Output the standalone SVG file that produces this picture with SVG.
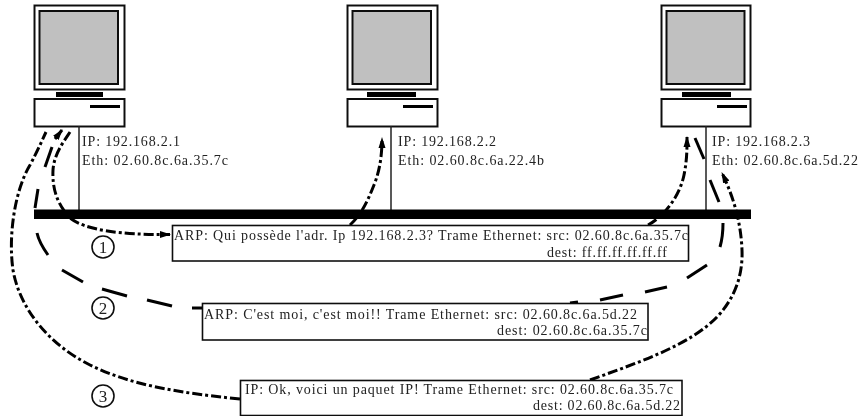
<svg xmlns="http://www.w3.org/2000/svg" width="858" height="416" viewBox="0 0 858 416">
<style>
.o{fill:#fff;stroke:#111;stroke-width:2}
.s{fill:#c0c0c0;stroke:#111;stroke-width:2}
.k{fill:#000}
.l{fill:none;stroke:#222;stroke-width:1.5}
.b{fill:#fff;stroke:#111;stroke-width:1.6}
text{font-family:"Liberation Serif","Times New Roman",serif;font-size:14px;fill:#222}
.c{text-anchor:middle;font-size:17px}
.dd{fill:none;stroke:#000;stroke-width:3;stroke-dasharray:10 3 3 3}
.da{fill:none;stroke:#000;stroke-width:3}
</style>
<defs>
<marker id="a" markerWidth="11" markerHeight="8" refX="10" refY="4" orient="auto" markerUnits="userSpaceOnUse"><path d="M0 0.500L11 4L0 7.500z" fill="#000"/></marker>
<filter id="f" x="-2%" y="-2%" width="104%" height="104%"><feGaussianBlur stdDeviation="0.35"/></filter>
</defs>
<g filter="url(#f)">
<g id="pc1">
<rect class="o" x="34.500" y="5.500" width="90" height="84"/><rect class="s" x="39.500" y="11" width="78.500" height="73"/>
<rect class="k" x="56" y="92" width="47" height="5"/><rect class="o" x="34.500" y="99" width="90" height="27.500"/><rect class="k" x="90" y="105" width="30" height="3"/>
<path class="l" d="M79 126V210"/>
<text x="82" y="146" textLength="98" lengthAdjust="spacing">IP: 192.168.2.1</text>
<text x="82" y="165" textLength="146" lengthAdjust="spacing">Eth: 02.60.8c.6a.35.7c</text>
</g>
<g id="pc2">
<rect class="o" x="347.500" y="5.500" width="90" height="84"/><rect class="s" x="352.500" y="11" width="78.500" height="73"/>
<rect class="k" x="367" y="92" width="49" height="5"/><rect class="o" x="347.500" y="99" width="90" height="27.500"/><rect class="k" x="403" y="105" width="30" height="3"/>
<path class="l" d="M391 126V210"/>
<text x="398" y="146" textLength="98" lengthAdjust="spacing">IP: 192.168.2.2</text>
<text x="398" y="165" textLength="146" lengthAdjust="spacing">Eth: 02.60.8c.6a.22.4b</text>
</g>
<g id="pc3">
<rect class="o" x="661.500" y="5.500" width="89" height="84"/><rect class="s" x="666.500" y="11" width="78" height="73"/>
<rect class="k" x="682" y="92" width="49" height="5"/><rect class="o" x="661.500" y="99" width="89" height="27.500"/><rect class="k" x="717" y="105" width="30" height="3"/>
<path class="l" d="M706 126V210"/>
<text x="712" y="146" textLength="98" lengthAdjust="spacing">IP: 192.168.2.3</text>
<text x="712" y="165" textLength="146" lengthAdjust="spacing">Eth: 02.60.8c.6a.5d.22</text>
</g>
<g id="connectors">
<path class="dd" d="M70 132C62 144 54 155 53 170C52 190 58 205 70 218C85 230 120 235 170 234.500" marker-end="url(#a)"/>
<path class="dd" marker-end="url(#a)" d="M350 225C362 214 368 200 374 185C380 170 382 155 382 138"/>
<path class="dd" marker-end="url(#a)" d="M648 225C665 216 680 195 684 175C687 160 687 150 687 137"/>
<path class="da" d="M695 138L704 159"/>
<path class="da" d="M710 180L719 202"/>
<path class="da" d="M723 223C723 235 722 240 720 247"/>
<path class="da" d="M707 265L687 278"/>
<path class="da" d="M667 287L645 292"/>
<path class="da" d="M623 295L600 300"/>
<path class="da" d="M578 302L570 303"/>
<path class="da" d="M202 308L192 308"/>
<path class="da" d="M172 306L147 300"/>
<path class="da" d="M127 296L102 289"/>
<path class="da" d="M83 282L62 270"/>
<path class="da" d="M48 255C43 248 39 242 37 233"/>
<path class="da" d="M35 208L38 189"/>
<path class="da" d="M45 167L52 147"/>
<path class="da" marker-end="url(#a)" d="M55 139L62 130"/>
<path class="dd" d="M240 399C180 393 130 385 90 365C50 345 20 310 13 270C8 235 15 190 30 165C37 152 40 145 46 132"/>
<path class="dd" marker-end="url(#a)" d="M590 380C640 362 690 345 717 317C735 298 743 275 742 250C741 225 735 200 722 173"/>
<rect class="k" x="34" y="209.500" width="717" height="9.500"/>
</g>
<g id="msg1">
<rect class="b" x="172.500" y="225.500" width="516" height="35.500"/>
<text x="174" y="240" textLength="514" lengthAdjust="spacing">ARP: Qui possède l'adr. Ip 192.168.2.3? Trame Ethernet: src: 02.60.8c.6a.35.7c</text>
<text x="547" y="257" textLength="120" lengthAdjust="spacing">dest: ff.ff.ff.ff.ff.ff</text>
<circle class="b" cx="103" cy="247" r="11"/><text class="c" x="103" y="253">1</text>
</g>
<g id="msg2">
<rect class="b" x="202.500" y="303.500" width="445.500" height="36.500"/>
<text x="204" y="319" textLength="433" lengthAdjust="spacing">ARP: C'est moi, c'est moi!! Trame Ethernet: src: 02.60.8c.6a.5d.22</text>
<text x="497" y="335" textLength="150" lengthAdjust="spacing">dest: 02.60.8c.6a.35.7c</text>
<circle class="b" cx="103" cy="308" r="11"/><text class="c" x="103" y="314">2</text>
</g>
<g id="msg3">
<rect class="b" x="240.500" y="380.500" width="441.500" height="35"/>
<text x="245" y="394" textLength="428" lengthAdjust="spacing">IP: Ok, voici un paquet IP! Trame Ethernet: src: 02.60.8c.6a.35.7c</text>
<text x="533" y="410" textLength="147" lengthAdjust="spacing">dest: 02.60.8c.6a.5d.22</text>
<circle class="b" cx="103" cy="396" r="11"/><text class="c" x="103" y="402">3</text>
</g>
</g>
</svg>
